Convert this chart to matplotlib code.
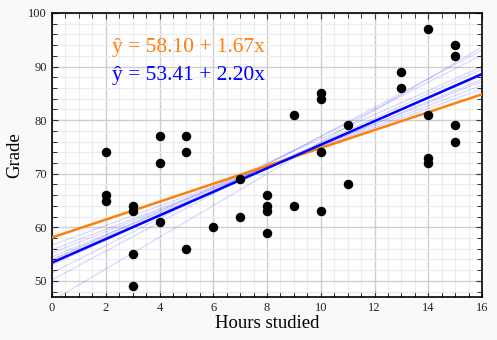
import numpy as np
import matplotlib
matplotlib.use("Agg")
import matplotlib.pyplot as plt
from matplotlib.ticker import MultipleLocator

# -------------------------------
# Data
# -------------------------------
hours = [2, 2, 2, 3, 3, 3, 3, 4, 4, 4, 5, 5, 5, 6, 7, 7, 8, 8, 8, 8,
         9, 9, 10, 10, 10, 10, 11, 11, 13, 13, 14, 14, 14, 14, 15, 15, 15, 15]
grades = [74, 66, 65, 64, 63, 55, 49, 77, 72, 61, 77, 74, 56, 60, 69, 62, 66, 64, 63, 59,
          81, 64, 85, 84, 74, 63, 79, 68, 89, 86, 97, 81, 73, 72, 94, 92, 79, 76]

# fitted lines (intercept, slope)
fit_orange = (58.10, 1.67)
fit_blue = (53.41, 2.20)

# faint resampled fits (intercept, slope)
sample_intercepts = [46.3, 50.2, 51.5, 53.0, 53.9, 54.5, 55.2, 55.8, 56.7, 54.0]
sample_slopes = [2.96, 2.68, 2.54, 2.28, 2.15, 2.07, 2.00, 1.92, 1.82, 2.25]

ORANGE = "#ff7f0e"
BLUE = "#0000ff"

plt.rcParams['font.family'] = ['Liberation Serif', 'DejaVu Serif']

fig = plt.figure(figsize=(4.97, 3.40), dpi=100, facecolor="#f9f9f9")
ax = fig.add_axes([0.1046, 0.1265, 0.8654, 0.8355])
ax.set_facecolor("white")

xs = np.array([0, 16])
for a, b in zip(sample_intercepts, sample_slopes):
    ax.plot(xs, a + b * xs, color=BLUE, alpha=0.15, lw=0.9, zorder=2)

ax.plot(xs, fit_orange[0] + fit_orange[1] * xs, color=ORANGE, lw=1.8, zorder=3)
ax.plot(xs, fit_blue[0] + fit_blue[1] * xs, color=BLUE, lw=1.8, zorder=3)

ax.scatter(hours, grades, s=34, color="black", zorder=4)

ax.text(2.25, 93.5, "ŷ = %.2f + %.2fx" % fit_orange, color=ORANGE,
        fontsize=15.5, va="center", ha="left")
ax.text(2.25, 88.4, "ŷ = %.2f + %.2fx" % fit_blue, color=BLUE,
        fontsize=15.5, va="center", ha="left")

ax.set_xlim(0, 16)
ax.set_ylim(47, 100)
ax.xaxis.set_major_locator(MultipleLocator(2))
ax.xaxis.set_minor_locator(MultipleLocator(0.5))
ax.yaxis.set_major_locator(MultipleLocator(10))
ax.yaxis.set_minor_locator(MultipleLocator(2))

ax.grid(True, which="major", color="#cfcfcf", lw=1.0, zorder=0)
ax.grid(True, which="minor", color="#ececec", lw=0.8, zorder=0)
ax.set_axisbelow(True)

ax.tick_params(which="both", direction="in", top=True, right=True,
               labelsize=9, colors="#333333", labelcolor="#222222")
ax.tick_params(which="major", length=4, width=0.8)
ax.tick_params(which="minor", length=3.5, width=0.7)
for sp in ax.spines.values():
    sp.set_linewidth(1.2)
    sp.set_color("black")

ax.set_xlabel("Hours studied", fontsize=13.5, labelpad=1)
ax.set_ylabel("Grade", fontsize=13.5, labelpad=4)

fig.savefig("out.png", dpi=100, facecolor=fig.get_facecolor())
